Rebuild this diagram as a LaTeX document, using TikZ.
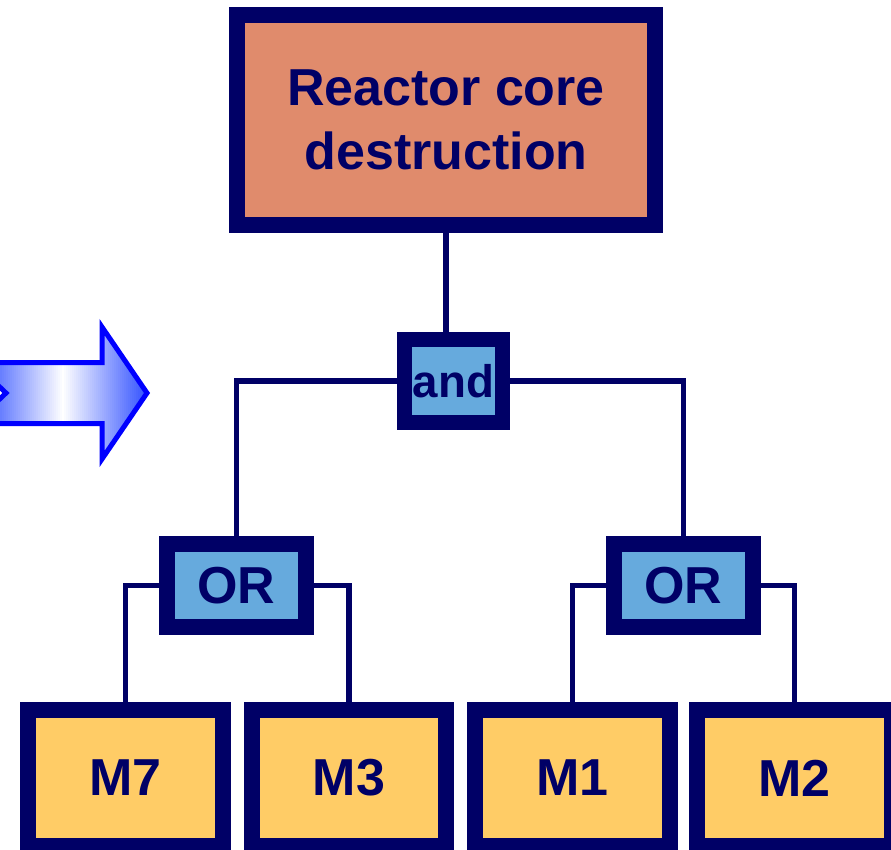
\documentclass[tikz,border=0pt]{standalone}
\usepackage{fontspec}
\setmainfont{Liberation Sans}
\definecolor{navy}{RGB}{0,0,102}
\definecolor{salmon}{RGB}{224,139,108}
\definecolor{gateblue}{RGB}{102,170,221}
\definecolor{leafgold}{RGB}{255,204,102}
\definecolor{arrowblue}{RGB}{0,0,255}
\definecolor{arrowfill}{RGB}{60,90,255}
\tikzset{every node/.style={draw=navy, text=navy, inner sep=0pt, font=\bfseries\fontsize{29.6}{36.4}\selectfont},
  topevent/.style={fill=salmon, line width=0.32cm, minimum width=8.36cm, minimum height=4.2cm, align=center},
  gate/.style={fill=gateblue, line width=0.32cm, minimum width=2.78cm, minimum height=1.66cm},
  leaf/.style={fill=leafgold, line width=0.32cm, minimum width=3.9cm, minimum height=2.72cm},
  wire/.style={navy, line width=0.11cm}}
\def\hintarrow{(-26,362.5) -- (102,362.5) -- (102,327) -- (147,393) -- (102,459) -- (102,423.5)
    -- (-26,423.5) -- (6,393) -- cycle}

\begin{document}
\begin{tikzpicture}[x=0.02cm, y=-0.02cm]
  \clip (0,0) rectangle (891,849);
  % big hint arrow on the left, shaded by strips
  \begin{scope}
    \clip \hintarrow;
    \foreach \i in {0,...,87} {
      \pgfmathsetmacro\xs{-26+2*\i}
      \pgfmathsetmacro\pct{min(100,100*abs(\xs-62)/80)}
      \fill[arrowfill!\pct!white] (\xs,320) rectangle (\xs+2.4,465);
    }
  \end{scope}
  \draw[arrowblue, line width=0.1cm] \hintarrow;
  % events and gates
  \node[topevent] (core) at (446,120) {Reactor core\\destruction};
  \node[gate, line width=0.3cm, minimum width=1.96cm, font=\bfseries\fontsize{26}{30}\selectfont] (and) at (453.5,381) {and};
  \node[gate] (orL) at (236.5,585.5) {OR};
  \node[gate] (orR) at (683.5,585.5) {OR};
  \foreach \n/\x in {M7/125.5,M3/349,M1/572.5,M2/794.5}
    \node[leaf] (\n) at (\x,778) {\n};
  % connectors
  \draw[wire] (core.south -| 446,0) -- (and.north -| 446,0);
  \draw[wire] (orL.north) |- (and.west);
  \draw[wire] (orR.north) |- (and.east);
  \draw[wire] (orL.west) -| (M7.north);
  \draw[wire] (orL.east) -| (M3.north);
  \draw[wire] (orR.west) -| (M1.north);
  \draw[wire] (orR.east) -| (M2.north);
\end{tikzpicture}
\end{document}
